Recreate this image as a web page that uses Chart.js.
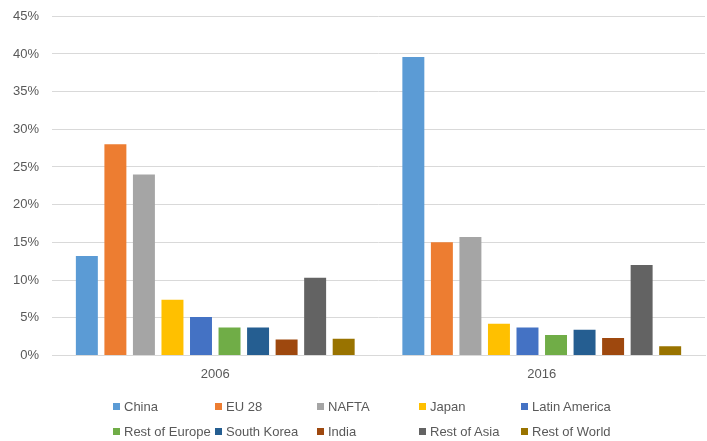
<!DOCTYPE html>
<html>
<head>
<meta charset="utf-8">
<script src="https://cdn.jsdelivr.net/npm/chart.js@4"></script>
<style>
  html, body { margin: 0; padding: 0; background: #fff; }
  #wrap { position: relative; width: 707px; height: 441px; }
  #legend {
    position: absolute; left: 113px; top: 396px;
    display: grid; grid-template-columns: repeat(5, 102px); grid-auto-rows: 25.5px;
    font: 13px "Liberation Sans", Arial, sans-serif; color: #595959;
  }
  #legend div { display: flex; align-items: center; white-space: nowrap; height: 20px; }
  #legend span.box { width: 7px; height: 7px; margin-right: 4px; display: inline-block; }
</style>
</head>
<body>
<div id="wrap">
  <canvas id="chart" width="707" height="441"></canvas>
  <div id="legend"></div>
</div>
<script>
// share by region, 2006 vs 2016
var years = ['2006', '2016'];
var regions = ['China', 'EU 28', 'NAFTA', 'Japan', 'Latin America',
  'Rest of Europe', 'South Korea', 'India', 'Rest of Asia', 'Rest of World'];
var share2006 = [13.2, 28.0, 24.0, 7.4, 5.1, 3.7, 3.7, 2.1, 10.3, 2.2];
var share2016 = [39.6, 15.0, 15.7, 4.2, 3.7, 2.7, 3.4, 2.3, 12.0, 1.2];
var colors = ['#5b9bd5', '#ed7d31', '#a5a5a5', '#ffc000', '#4472c4',
  '#70ad47', '#255e91', '#9e480e', '#636363', '#997300'];

var datasets = [];
for (var i = 0; i < regions.length; i++) {
  datasets.push({
    label: regions[i],
    data: [share2006[i], share2016[i]],
    backgroundColor: colors[i],
    categoryPercentage: 0.874,
    barPercentage: 0.77
  });
}

Chart.defaults.font.family = '"Liberation Sans", Arial, sans-serif';
Chart.defaults.font.size = 13;
Chart.defaults.color = '#595959';

new Chart(document.getElementById('chart'), {
  type: 'bar',
  data: { labels: years, datasets: datasets },
  options: {
    responsive: false,
    animation: false,
    layout: { padding: { left: 0, right: 2, top: 0, bottom: 56 } },
    plugins: { legend: { display: false }, tooltip: { enabled: false } },
    scales: {
      x: {
        grid: { display: false },
        border: { color: '#d9d9d9' },
        ticks: { padding: 3 }
      },
      y: {
        min: 0, max: 45,
        ticks: {
          stepSize: 5, padding: 13, font: { lineHeight: 0.5 },
          callback: function (v) { return v + '%'; }
        },
        grid: { color: '#d9d9d9', drawTicks: false },
        border: { display: false }
      }
    }
  }
});

// legend in a fixed 5-column grid
var legend = document.getElementById('legend');
for (var j = 0; j < regions.length; j++) {
  var item = document.createElement('div');
  item.innerHTML = '<span class="box" style="background:' + colors[j] + '"></span>' + regions[j];
  legend.appendChild(item);
}
</script>
</body>
</html>
